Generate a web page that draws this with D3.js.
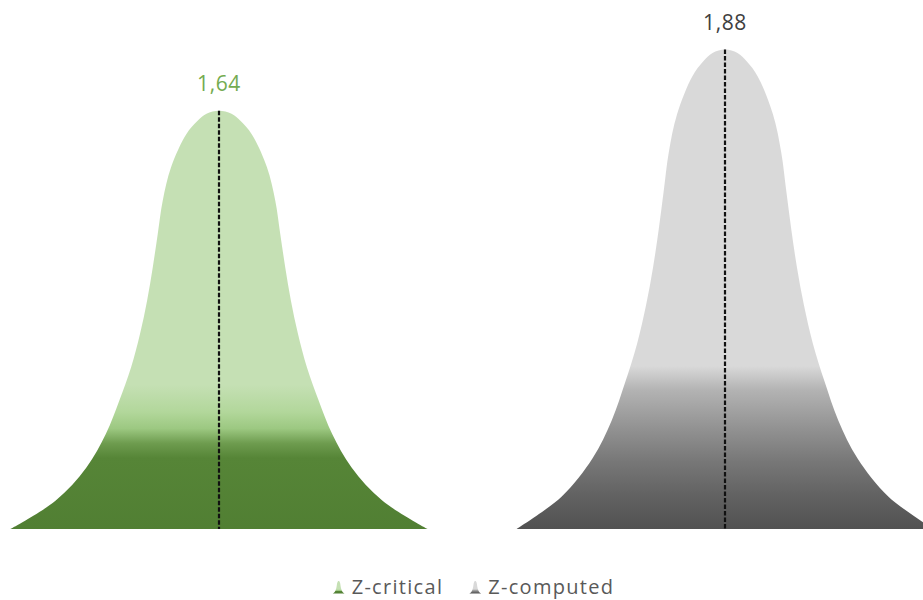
<!DOCTYPE html>
<html>
<head>
<meta charset="utf-8">
<script src="https://cdn.jsdelivr.net/npm/d3@7"></script>
<style>
  html, body { margin: 0; padding: 0; background: #ffffff; }
  svg { display: block; }
</style>
</head>
<body>
<svg id="chart" width="923" height="600"></svg>
<script>
// Series shown as bell-shaped pictograph columns
const categories = ["Z-critical", "Z-computed"];
const values = [1.64, 1.88];
const valueLabels = ["1,64", "1,88"];
const yDomain = [0, 2];

// Unit outline of one half of the bell glyph: u = horizontal offset from the
// centre (0..1 of half width), f = height as a share of the column's value.
const bellOutline = [
  [0, 1], [0.06, 0.993], [0.105, 0.975], [0.157, 0.944], [0.23, 0.865],
  [0.27, 0.785], [0.294, 0.705], [0.318, 0.625], [0.345, 0.546],
  [0.379, 0.466], [0.422, 0.386], [0.478, 0.307], [0.543, 0.227],
  [0.636, 0.147], [0.783, 0.068], [1, 0]
];

const palette = {
  "Z-critical": {
    label: "#74ab50",
    stops: [[0, "#c5e0b4"], [0.655, "#c5e0b4"], [0.72, "#b2d79b"], [0.76, "#9cc881"],
            [0.795, "#6e9c4f"], [0.83, "#568537"], [1, "#517f33"]]
  },
  "Z-computed": {
    label: "#404040",
    stops: [[0, "#d9d9d9"], [0.66, "#d9d9d9"], [0.71, "#b3b3b3"], [0.79, "#929292"],
            [0.86, "#777777"], [0.93, "#626262"], [1, "#515151"]]
  }
};

const svg = d3.select("#chart");

const x = d3.scaleBand()
  .domain(categories)
  .range([-34, 978])
  .paddingInner(0.176)
  .paddingOuter(0.088);

const y = d3.scaleLinear().domain(yDomain).range([529, 19]);

// vertical fills for each series
const defs = svg.append("defs");
categories.forEach((c, i) => {
  const g = defs.append("linearGradient")
    .attr("id", "grad" + i)
    .attr("x1", 0).attr("y1", 0).attr("x2", 0).attr("y2", 1);
  palette[c].stops.forEach(s => g.append("stop").attr("offset", s[0]).attr("stop-color", s[1]));
});

// closed bell path for a column centred at cx, half width hw, base y0, top y1
function bellPath(cx, hw, y0, y1) {
  const h = y0 - y1;
  const right = bellOutline.map(([u, f]) => [cx + u * hw, y0 - f * h]);
  const left = bellOutline.slice(1).map(([u, f]) => [cx - u * hw, y0 - f * h]).reverse();
  return d3.line().curve(d3.curveCatmullRom.alpha(0.5))(left.concat(right)) + "Z";
}

const cols = svg.append("g").attr("class", "columns");
categories.forEach((c, i) => {
  const cx = x(c) + x.bandwidth() / 2;
  const hw = x.bandwidth() / 2;
  cols.append("path")
    .attr("d", bellPath(cx, hw, y(0), y(values[i])))
    .attr("fill", `url(#grad${i})`);

  cols.append("line")
    .attr("x1", cx).attr("x2", cx)
    .attr("y1", y(values[i])).attr("y2", y(0))
    .attr("stroke", "#111")
    .attr("stroke-width", 2.2)
    .attr("stroke-dasharray", "4.5,2");

  cols.append("text")
    .attr("x", cx)
    .attr("y", y(values[i]) - 20)
    .attr("text-anchor", "middle")
    .attr("font-family", "'Open Sans', Lato, sans-serif")
    .attr("font-size", 21)
    .attr("letter-spacing", 0.6)
    .attr("fill", palette[c].label)
    .text(valueLabels[i]);
});

// legend
const legend = svg.append("g").attr("class", "legend");
const legendY = 594;
const items = [];
categories.forEach((c, i) => {
  const it = legend.append("g");
  it.append("path")
    .attr("d", bellPath(4, 6, legendY - 0.5, legendY - 13))
    .attr("fill", `url(#grad${i})`);
  const t = it.append("text")
    .attr("x", 17)
    .attr("y", legendY)
    .attr("font-family", "'Open Sans', Lato, sans-serif")
    .attr("font-size", 20)
    .attr("letter-spacing", 1.3)
    .attr("fill", "#595959")
    .text(c);
  items.push({ g: it, w: 17 + t.node().getComputedTextLength() });
});
const gap = 28;
const total = d3.sum(items, d => d.w) + gap * (items.length - 1);
let lx = 474.5 - total / 2;
items.forEach(d => {
  d.g.attr("transform", `translate(${lx},0)`);
  lx += d.w + gap;
});
</script>
</body>
</html>
